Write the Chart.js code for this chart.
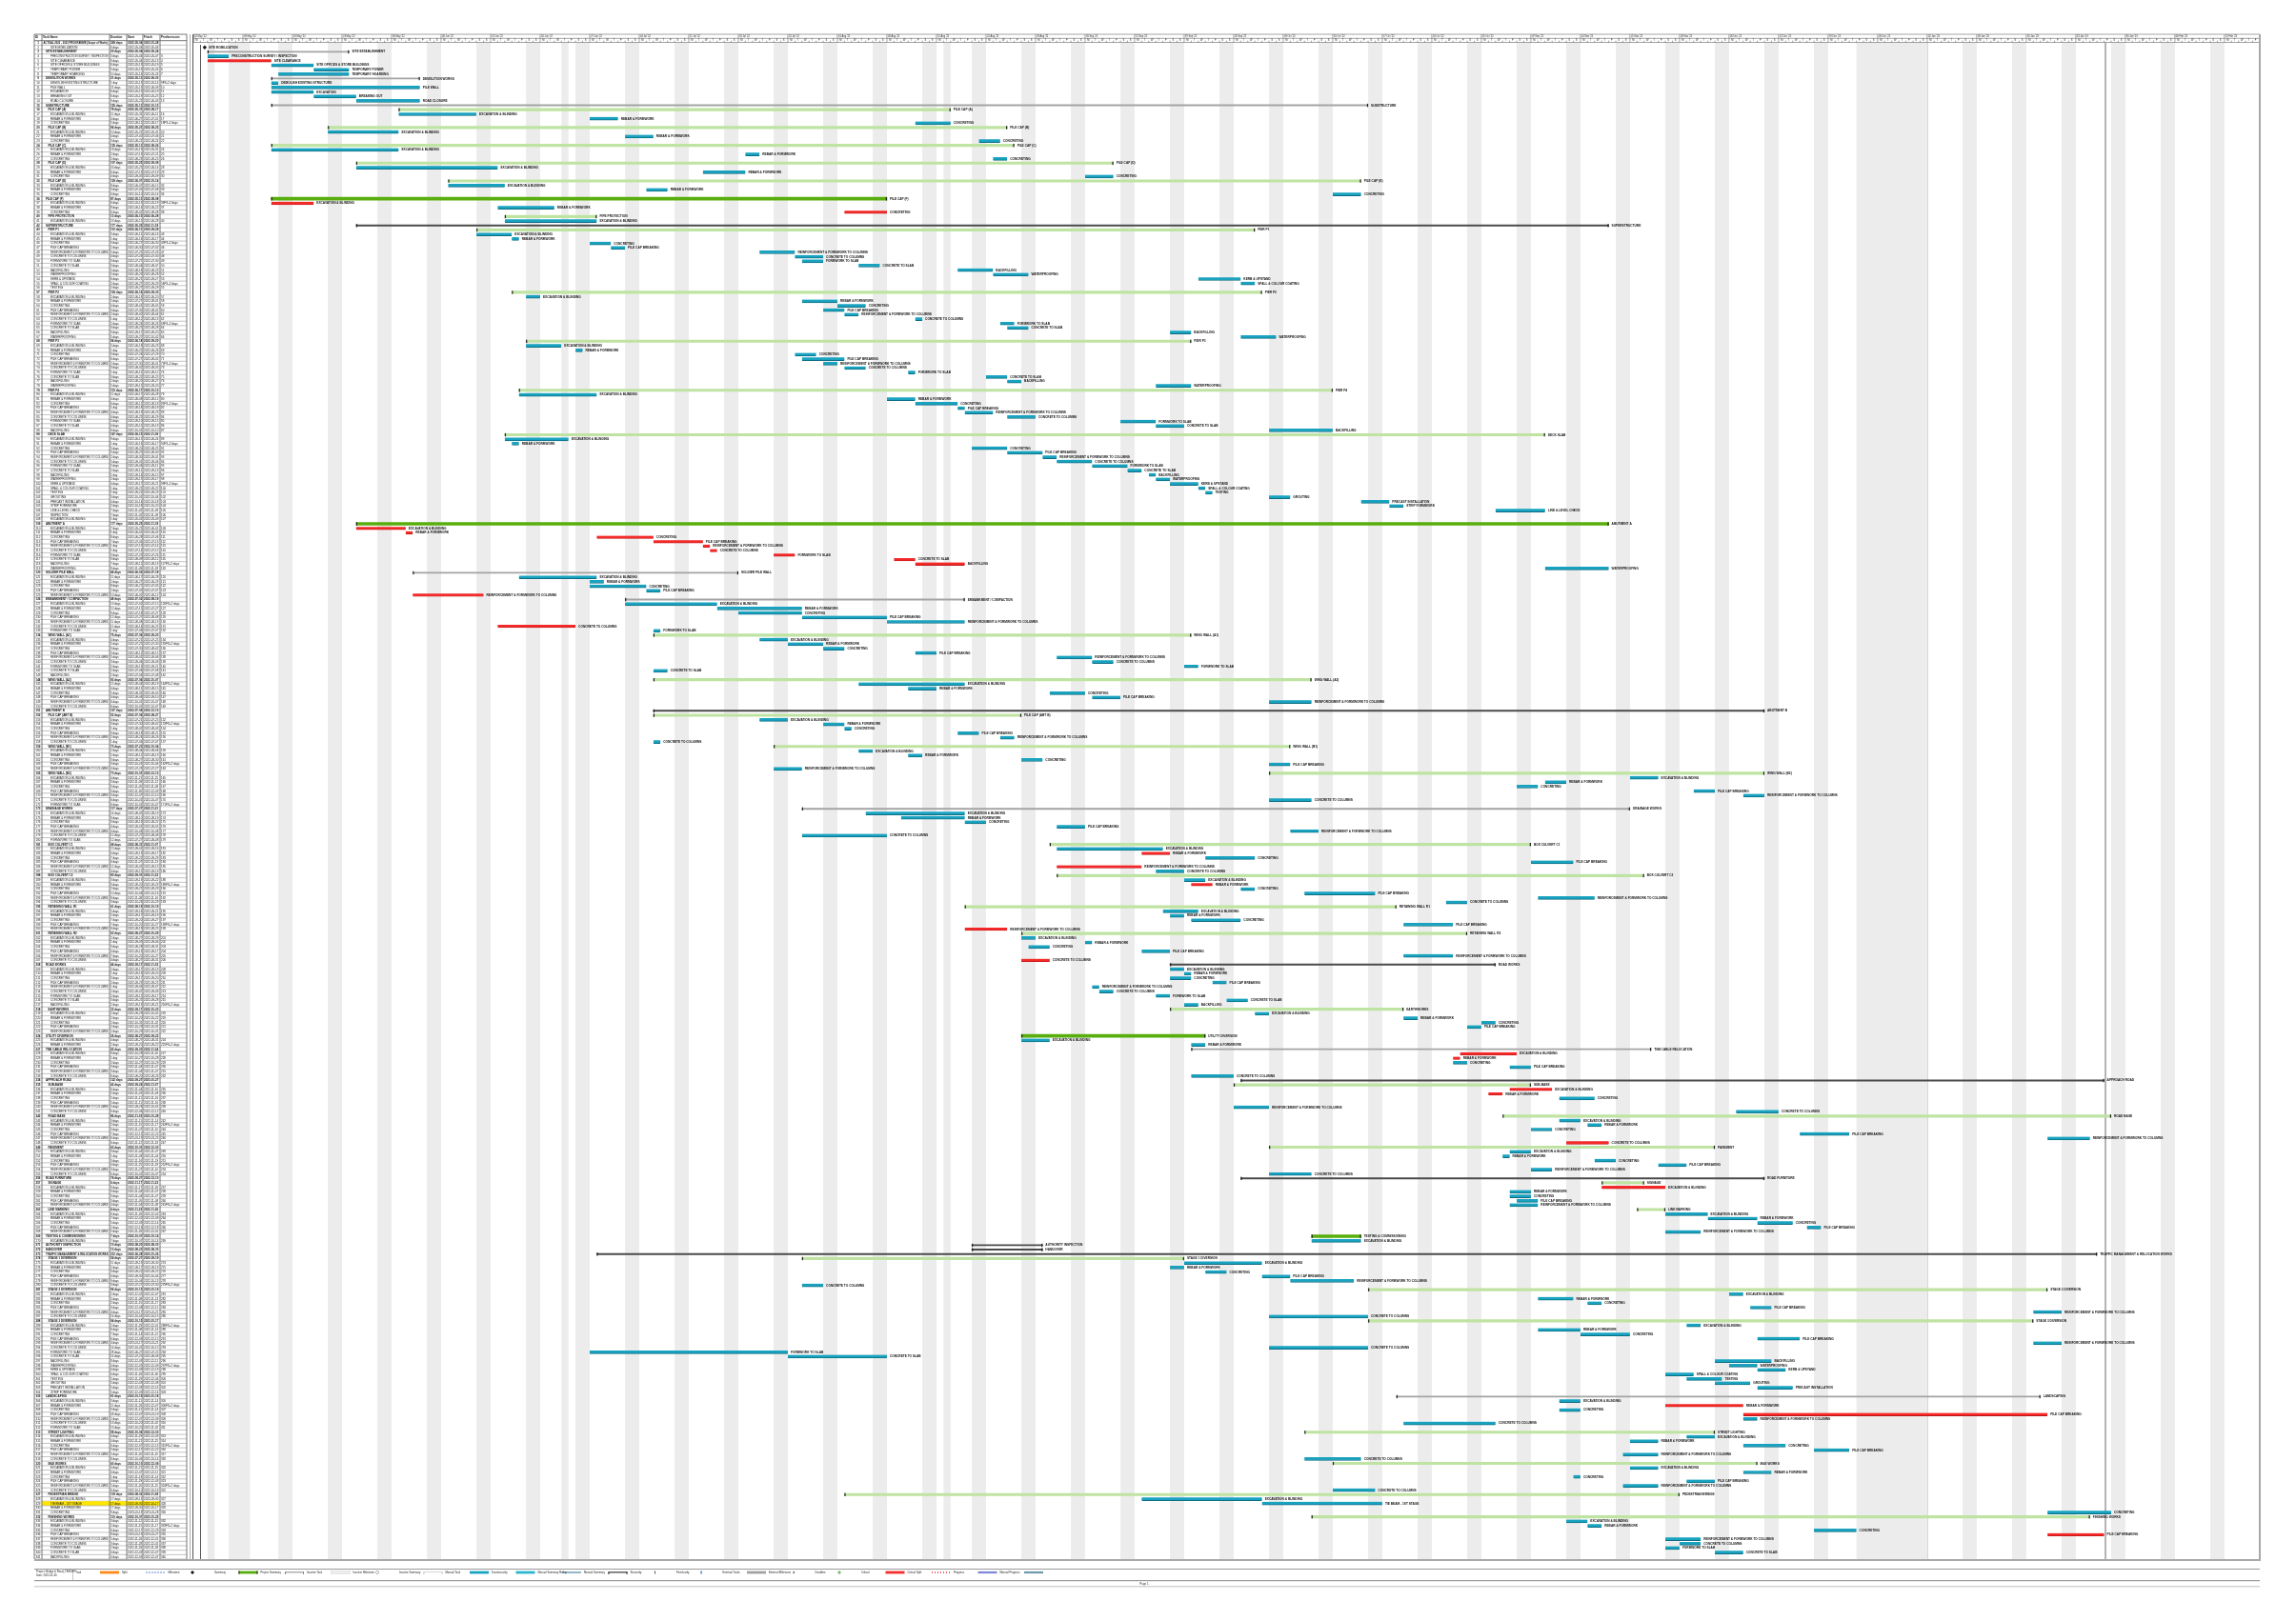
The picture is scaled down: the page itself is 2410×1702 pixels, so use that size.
<!DOCTYPE html>
<html>
<head>
<meta charset="utf-8">
<title>Programme Gantt</title>
<script src="https://cdn.jsdelivr.net/npm/chart.js@4.4.1/dist/chart.umd.min.js"></script>
<style>
  html, body { margin: 0; padding: 0; background: #fff; }
  canvas { display: block; }
</style>
</head>
<body>
<canvas id="gantt" width="2410" height="1702"></canvas>
<script>
// ---- Calendar ----
const ROWS = 341;
const BASE_DATE = Date.UTC(2022, 4, 2);          // day 0 = Mon 2022-05-02
const TOTAL_DAYS = 292;
const holidays = [[2, 3], [7, 8], [52, 53], [106, 107], [235, 245]];
const dayLetters = ["M", "T", "W", "T", "F", "S", "S"];
const monthNames = ["Jan","Feb","Mar","Apr","May","Jun","Jul","Aug","Sep","Oct","Nov","Dec"];

// ---- Bars: [row, startDay, finishDay] ----
const taskBars = [
  [3,2,5],[5,11,17],[6,17,22],[7,12,22],[9,11,12],[10,11,32],[11,11,17],[12,17,23],[13,23,32],
  [16,29,40],[17,56,60],[18,102,107],[20,19,29],[21,61,65],[22,111,114],[24,11,29],[25,78,80],[26,113,115],
  [28,23,43],[29,72,78],[30,126,130],[32,36,44],[33,64,67],[34,161,165],[37,43,51],[40,44,57],
  [43,40,45],[44,45,46],[45,56,59],[46,59,61],[47,80,85],[48,85,89],[49,86,89],[50,94,97],[51,108,113],
  [52,113,118],[53,142,148],[54,148,150],[57,47,49],[58,86,91],[59,91,95],[60,89,92],[61,92,94],[62,102,103],
  [63,114,116],[64,115,118],[65,138,141],[66,148,153],[68,47,52],[69,54,55],[70,85,88],[71,86,92],[72,89,91],
  [73,92,95],[74,101,102],[75,112,115],[76,115,117],[77,136,141],[79,46,57],[80,98,102],[81,102,108],
  [82,108,109],[83,109,113],[84,115,119],[85,131,136],[86,136,140],[87,152,161],[89,44,53],[90,45,46],
  [91,110,115],[92,115,120],[93,120,122],[94,122,127],[95,127,132],[96,132,134],[97,135,136],[98,136,138],
  [99,138,142],[100,142,143],[101,143,144],[102,152,155],[103,165,169],[104,169,171],[105,184,191],
  [118,191,200],[120,46,57],[121,56,58],[122,56,64],[123,64,66],[126,61,74],[127,74,86],[128,77,86],
  [129,86,98],[130,98,109],[132,65,66],[134,80,84],[135,84,89],[136,89,92],[137,102,105],[138,122,127],
  [139,127,130],[140,140,142],[141,65,67],[144,94,109],[145,101,105],[146,121,126],[147,127,131],[148,152,158],
  [152,80,84],[153,89,92],[154,92,93],[155,108,111],[156,114,116],[157,65,66],[159,94,96],[160,101,103],
  [161,117,120],[162,152,155],[163,82,86],[165,203,207],[166,191,194],[167,187,190],[168,212,215],[169,219,222],
  [170,152,158],[173,95,109],[174,100,109],[175,109,112],[176,122,126],[177,155,159],[178,86,98],[181,122,137],
  [183,143,150],[184,189,195],[186,136,140],[188,140,143],[190,148,150],[191,157,167],[192,190,198],[193,177,180],
  [195,137,142],[196,138,140],[197,141,148],[198,171,178],[201,117,119],[202,126,127],[203,118,121],[204,134,138],
  [205,171,178],[208,138,140],[209,140,141],[210,138,141],[211,144,146],[212,127,128],[213,128,130],[214,136,138],
  [215,146,149],[216,140,142],[218,150,152],[219,171,173],[220,182,184],[221,180,182],[224,117,121],[225,141,143],
  [229,178,180],[230,186,189],[232,141,147],[237,193,198],[239,147,152],[240,218,224],[242,193,196],[243,197,199],
  [244,189,192],[245,227,234],[246,262,268],[249,186,189],[250,185,186],[251,198,201],[252,207,211],[253,189,192],
  [254,152,158],[258,186,189],[259,186,189],[260,187,190],[261,186,190],[263,208,214],[264,214,221],[265,221,226],
  [266,228,230],[267,208,213],[269,158,165],[274,140,151],[275,138,140],[276,143,146],[277,151,155],[278,155,164],
  [279,86,89],[281,217,219],[282,190,195],[283,197,199],[284,220,223],[285,260,264],[286,152,166],[288,211,213],
  [289,190,196],[290,196,203],[291,221,227],[292,260,264],[293,152,166],[294,56,84],[295,84,98],[296,215,223],
  [297,217,221],[298,221,225],[299,208,212],[300,211,216],[301,215,220],[302,221,226],[305,193,196],[307,193,196],
  [309,219,221],[310,171,184],[313,211,215],[314,203,207],[315,219,225],[316,229,234],[317,202,207],[318,157,165],
  [320,203,207],[321,219,223],[322,195,196],[323,211,215],[324,202,207],[325,161,167],[327,134,151],[328,151,168],
  [330,262,271],[332,194,197],[333,197,199],[334,229,235],[336,208,213],[337,210,213],[338,208,210],[339,215,219]
];
const criticalBars = [
  [4,2,11],[36,11,17],[38,92,98],[109,23,30],[110,30,31],[111,57,65],[112,65,72],[113,72,73],[114,73,74],
  [115,82,85],[116,99,102],[117,102,109],[124,31,41],[131,43,54],[182,134,138],[185,122,134],[189,141,144],
  [199,109,115],[206,117,121],[227,179,187],[228,178,179],[235,186,192],[236,183,185],[247,194,200],
  [257,199,208],[306,208,219],[308,219,262],[335,262,270]
];
const summaryBars = [
  [15,29,107],[19,19,115],[23,11,116],[27,23,130],[31,36,165],[39,44,57],[42,40,150],[56,45,151],[67,47,141],
  [78,46,161],[88,44,191],[133,65,141],[143,65,158],[151,65,117],[158,82,155],[164,152,222],[180,121,189],
  [187,122,205],[194,109,170],[200,117,180],[217,138,171],[234,147,189],[241,185,271],[248,152,215],
  [256,199,205],[262,204,208],[273,86,140],[280,166,262],[287,166,260],[312,157,215],[319,161,221],
  [326,92,210],[331,158,268]
];
const majorSummaryBars = [[35,11,98],[108,23,200],[223,117,143],[268,158,165]];
const sectionLines = [[41,23,200],[150,65,222],[207,138,184],[233,148,270],[255,148,222],[270,110,120],[271,110,120],[272,57,269]];
const groupLines = [[2,2,22],[8,11,32],[14,11,166],[119,31,77],[125,61,109],[172,86,203],[226,141,206],[304,170,261]];
const milestones = [[1, 1.6]];
const highlightRow = 328;

// ---- Task names ----
const summaryTitles = [
  [0,"ACTUAL 2022 - 2023 PROGRAMME (Scope of Works)"],[2,"SITE ESTABLISHMENT"],[8,"DEMOLITION WORKS"],[14,"SUBSTRUCTURE"],
  [15,"PILE CAP (A)"],[19,"PILE CAP (B)"],[23,"PILE CAP (C)"],[27,"PILE CAP (D)"],[31,"PILE CAP (E)"],[35,"PILE CAP (F)"],
  [39,"PIPE PROTECTION"],[41,"SUPERSTRUCTURE"],[42,"PIER P1"],[56,"PIER P2"],[67,"PIER P3"],[78,"PIER P4"],[88,"DECK SLAB"],
  [108,"ABUTMENT A"],[119,"SOLDIER PILE WALL"],[125,"EMBANKMENT / COMPACTION"],[133,"WING WALL (A1)"],[143,"WING WALL (A2)"],
  [150,"ABUTMENT B"],[151,"PILE CAP (ABT B)"],[158,"WING WALL (B1)"],[164,"WING WALL (B2)"],[172,"DRAINAGE WORKS"],
  [180,"BOX CULVERT C1"],[187,"BOX CULVERT C2"],[194,"RETAINING WALL R1"],[200,"RETAINING WALL R2"],[207,"ROAD WORKS"],
  [217,"EARTHWORKS"],[223,"UTILITY DIVERSION"],[226,"TNB CABLE RELOCATION"],[233,"APPROACH ROAD"],[234,"SUB-BASE"],
  [241,"ROAD BASE"],[248,"PAVEMENT"],[255,"ROAD FURNITURE"],[256,"SIGNAGE"],[262,"LINE MARKING"],
  [268,"TESTING & COMMISSIONING"],[270,"AUTHORITY INSPECTION"],[271,"HANDOVER"],[272,"TRAFFIC MANAGEMENT & RELOCATION WORKS"],
  [273,"STAGE 1 DIVERSION"],[280,"STAGE 2 DIVERSION"],[287,"STAGE 3 DIVERSION"],[304,"LANDSCAPING"],[312,"STREET LIGHTING"],
  [319,"M&E WORKS"],[326,"PEDESTRIAN BRIDGE"],[331,"FINISHING WORKS"]
];
const detailNames = [
  [1,"SITE MOBILIZATION"],[3,"PRECONSTRUCTION SURVEY / INSPECTION"],[4,"SITE CLEARANCE"],[5,"SITE OFFICES & STORE BUILDINGS"],
  [6,"TEMPORARY POWER"],[7,"TEMPORARY HOARDING"],[9,"DEMOLISH EXISTING STRUCTURE"],[10,"PILE WALL"],[11,"EXCAVATION"],
  [12,"BREAKING OUT"],[13,"ROAD CLOSURE"],[328,"TIE BEAM - 1ST STAGE"]
];
const workItems = [
  "EXCAVATION & BLINDING","REBAR & FORMWORK","CONCRETING","PILE CAP BREAKING","REINFORCEMENT & FORMWORK TO COLUMNS",
  "CONCRETE TO COLUMNS","FORMWORK TO SLAB","CONCRETE TO SLAB","BACKFILLING","WATERPROOFING","KERB & UPSTAND",
  "SPALL & COLOUR COATING","TESTING","GROUTING","PRECAST INSTALLATION","STRIP FORMWORK","LINE & LEVEL CHECK","INSPECTION"
];

const tableCols = [36, 44, 115, 133, 150, 168, 196];
const tableHeads = ["ID", "Task Name", "Duration", "Start", "Finish", "Predecessors"];
const legendLabels = ["Task","Split","Milestone","Summary","Project Summary","Inactive Task","Inactive Milestone",
  "Inactive Summary","Manual Task","Duration-only","Manual Summary Rollup","Manual Summary","Start-only","Finish-only",
  "External Tasks","External Milestone","Deadline","Critical","Critical Split","Progress","Manual Progress"];

// ---- derived lookups ----
const rowIds = Array.from({ length: ROWS }, (_, i) => String(i + 1));
const taskNames = [];
const sMap = new Map(summaryTitles), dMap = new Map(detailNames);
let k = 0;
for (let i = 0; i < ROWS; i++) {
  if (sMap.has(i)) { taskNames.push(sMap.get(i)); k = 0; }
  else if (dMap.has(i)) taskNames.push(dMap.get(i));
  else taskNames.push(workItems[k++ % workItems.length]);
}
const level = new Array(ROWS).fill(3);
level[0] = 0;
[...sectionLines, ...groupLines, ...majorSummaryBars].forEach(([r]) => level[r] = 1);
summaryBars.forEach(([r]) => level[r] = 2);
const rowSpan = {};
[taskBars, criticalBars, summaryBars, majorSummaryBars, sectionLines, groupLines].forEach(arr => arr.forEach(([r, s, e]) => rowSpan[r] = [s, e]));
milestones.forEach(([r, d]) => rowSpan[r] = [d, d]);
rowSpan[0] = [1.6, 271];

function fmtDate(day) {
  return new Date(BASE_DATE + Math.round(day) * 86400000).toISOString().slice(0, 10);
}
const toPoints = bars => bars.map(([r, s, e]) => ({ x: [s, e], y: rowIds[r] }));

// ---- Custom drawing ----
const ganttPlugin = {
  id: "ganttExtras",
  beforeDatasetsDraw(chart) {
    const { ctx, chartArea: ca, scales: { x } } = chart;
    ctx.save();
    ctx.fillStyle = "#ececec";
    const band = (s, e) => {
      const x0 = Math.max(x.getPixelForValue(s), ca.left);
      const x1 = Math.min(x.getPixelForValue(e), ca.right);
      if (x1 > x0) ctx.fillRect(x0, 44.5, x1 - x0, ca.bottom - 44.5);
    };
    for (let d = 5; d < TOTAL_DAYS; d += 7) band(d, d + 2);
    holidays.forEach(([s, e]) => band(s, e));
    // project start + page lines
    ctx.fillStyle = "#555";
    ctx.fillRect(Math.round(x.getPixelForValue(1)), 47, 1, ca.bottom - 47);
    ctx.fillStyle = "#d6d6d6";
    ctx.fillRect(Math.round(x.getPixelForValue(245)), 44.5, 1, ca.bottom - 44.5);
    ctx.fillStyle = "#b4b4b4";
    ctx.fillRect(Math.round(x.getPixelForValue(270)), 44.5, 2, ca.bottom - 44.5);
    ctx.restore();
  },
  afterDatasetsDraw(chart) {
    const { ctx, scales: { x, y } } = chart;
    ctx.save();
    // end caps on summary style bars
    chart.data.datasets.forEach((ds, di) => {
      if (!ds.caps) return;
      chart.getDatasetMeta(di).data.forEach(el => {
        const a = Math.min(el.x, el.base), b = Math.max(el.x, el.base);
        ctx.fillStyle = "#222";
        ctx.fillRect(a, el.y - 1.6, 1.2, 3.4);
        ctx.fillRect(b - 1.2, el.y - 1.6, 1.2, 3.4);
      });
    });
    // milestones
    milestones.forEach(([r, d]) => {
      const px = x.getPixelForValue(d), py = y.getPixelForValue(r);
      ctx.fillStyle = "#1a1a1a";
      ctx.beginPath();
      ctx.moveTo(px, py - 2.2); ctx.lineTo(px + 2.2, py); ctx.lineTo(px, py + 2.2); ctx.lineTo(px - 2.2, py);
      ctx.closePath(); ctx.fill();
      ctx.font = "bold 3.2px 'Liberation Sans', Arial";
      ctx.textBaseline = "middle";
      ctx.fillText(taskNames[r], px + 4, py + 0.2);
    });
    // bar labels
    ctx.font = "bold 3.2px 'Liberation Sans', Arial";
    ctx.textBaseline = "middle";
    ctx.fillStyle = "#111";
    chart.data.datasets.forEach((ds, di) => {
      chart.getDatasetMeta(di).data.forEach((el, j) => {
        const r = +ds.data[j].y - 1;
        ctx.fillText(taskNames[r], Math.max(el.x, el.base) + 3, el.y + 0.2);
      });
    });
    ctx.restore();
  },
  afterDraw(chart) {
    const { ctx, chartArea: ca, scales: { x, y } } = chart;
    const h = y.getPixelForValue(1) - y.getPixelForValue(0);
    ctx.save();

    // ---- table ----
    ctx.fillStyle = "#fff";
    ctx.fillRect(tableCols[0], 36, tableCols[6] - tableCols[0], ca.bottom - 36);
    ctx.font = "bold 3px 'Liberation Sans', Arial";
    ctx.textBaseline = "middle";
    ctx.fillStyle = "#111";
    tableHeads.forEach((t, i) => ctx.fillText(t, tableCols[i] + 1, 39.3));
    ctx.strokeStyle = "#9a9a9a";
    ctx.lineWidth = 0.6;
    for (let i = 0; i < ROWS; i++) {
      const cy = y.getPixelForValue(i), top = cy - h / 2;
      if (i === highlightRow) {
        ctx.fillStyle = "#ffe600";
        ctx.fillRect(tableCols[1], top, tableCols[5] - tableCols[1], h);
      }
      ctx.beginPath(); ctx.moveTo(tableCols[0], top + h); ctx.lineTo(tableCols[6], top + h); ctx.stroke();
      const span = rowSpan[i] || rowSpan[i - 1] || [0, 1];
      const dur = Math.max(Math.round(span[1] - span[0]), rowSpan[i] ? 0 : 1);
      const bold = level[i] < 3;
      ctx.fillStyle = "#111";
      ctx.font = (bold ? "bold " : "") + "3px 'Liberation Sans', Arial";
      ctx.textAlign = "center";
      ctx.fillText(rowIds[i], (tableCols[0] + tableCols[1]) / 2, cy + 0.2);
      ctx.textAlign = "left";
      ctx.fillText(taskNames[i], tableCols[1] + 1.5 + level[i] * 2.5, cy + 0.2, tableCols[2] - tableCols[1] - 3 - level[i] * 2.5);
      ctx.fillText(dur + (dur === 1 ? " day" : " days"), tableCols[2] + 1, cy + 0.2);
      ctx.fillText(fmtDate(span[0]), tableCols[3] + 1, cy + 0.2);
      ctx.fillText(fmtDate(span[1]), tableCols[4] + 1, cy + 0.2);
      if (!bold && i > 1) ctx.fillText(String(i) + (i % 9 === 0 ? "FS+2 days" : ""), tableCols[5] + 1, cy + 0.2);
    }
    ctx.strokeStyle = "#555";
    ctx.lineWidth = 0.8;
    tableCols.forEach(cx => { ctx.beginPath(); ctx.moveTo(cx, 36); ctx.lineTo(cx, ca.bottom); ctx.stroke(); });
    [36, 42.7].forEach(ly => { ctx.beginPath(); ctx.moveTo(tableCols[0], ly); ctx.lineTo(tableCols[6], ly); ctx.stroke(); });
    ctx.strokeStyle = "#999";
    ctx.beginPath(); ctx.moveTo(199.5, 36); ctx.lineTo(199.5, ca.bottom); ctx.stroke();

    // ---- timescale header ----
    ctx.fillStyle = "#fff";
    ctx.fillRect(ca.left, 36, ca.right - ca.left, 8.5);
    ctx.strokeStyle = "#666";
    ctx.lineWidth = 0.6;
    ctx.strokeRect(ca.left, 36, ca.right - ca.left, 8.5);
    ctx.beginPath(); ctx.moveTo(ca.left, 40.3); ctx.lineTo(ca.right, 40.3); ctx.stroke();
    ctx.fillStyle = "#222";
    ctx.textAlign = "left";
    for (let d = 0; d < TOTAL_DAYS; d++) {
      const px = x.getPixelForValue(d);
      if (d % 7 === 0) {
        ctx.beginPath(); ctx.moveTo(px, 36); ctx.lineTo(px, 44.5); ctx.stroke();
        const dt = new Date(BASE_DATE + d * 86400000);
        ctx.font = "2.6px 'Liberation Sans', Arial";
        ctx.fillText(String(dt.getUTCDate()).padStart(2, "0") + " " + monthNames[dt.getUTCMonth()] + " '" + String(dt.getUTCFullYear()).slice(2), px + 1, 38.2);
      } else {
        ctx.beginPath(); ctx.moveTo(px, 42.6); ctx.lineTo(px, 44.5); ctx.stroke();
      }
      ctx.font = "2.6px 'Liberation Sans', Arial";
      ctx.fillText(dayLetters[d % 7], px + 2.3, 42.4);
    }

    // ---- frame ----
    ctx.fillStyle = "#555";
    ctx.fillRect(ca.left - 1, 36, 1, ca.bottom - 36);
    ctx.fillStyle = "#a8a8a8";
    ctx.fillRect(ca.right - 1, 36, 2, ca.bottom - 36);
    ctx.fillRect(tableCols[0], ca.bottom, ca.right + 1 - tableCols[0], 2);

    // ---- legend ----
    const LY = 1651;
    ctx.fillStyle = "#9a9a9a";
    ctx.fillRect(tableCols[0], 1647, ca.right - tableCols[0], 1);
    ctx.fillRect(tableCols[0], 1659, ca.right - tableCols[0], 1.2);
    ctx.fillStyle = "#d4d4d4";
    ctx.fillRect(tableCols[0], 1665, ca.right - tableCols[0], 1.5);
    ctx.fillStyle = "#bbb";
    ctx.fillRect(76, 1647, 0.8, 12);
    ctx.fillStyle = "#222";
    ctx.font = "2.8px 'Liberation Sans', Arial";
    ctx.fillText("Project: Bridge & Road_TENDER", 38, 1650.5);
    ctx.fillText("Date: 2022-11-30", 38, 1654.5);
    legendLabels.forEach((lab, i) => {
      const lx = 79.5 + i * 48.5, sx = lx + 25.5;
      ctx.fillStyle = "#222";
      ctx.fillText(lab, lx, LY);
      const bar = (c, hh) => { ctx.fillStyle = c; ctx.fillRect(sx, LY - hh / 2, 20, hh); };
      const bracket = (c, w) => {
        ctx.fillStyle = c; ctx.fillRect(sx, LY - 0.6, 20, w);
        ctx.fillRect(sx, LY - 0.6, 0.9, 2.6); ctx.fillRect(sx + 19.1, LY - 0.6, 0.9, 2.6);
      };
      const diamond = (c, fill) => {
        ctx.beginPath(); ctx.moveTo(sx, LY - 2); ctx.lineTo(sx + 2, LY); ctx.lineTo(sx, LY + 2); ctx.lineTo(sx - 2, LY); ctx.closePath();
        if (fill) { ctx.fillStyle = c; ctx.fill(); } else { ctx.strokeStyle = c; ctx.lineWidth = 0.6; ctx.stroke(); }
      };
      switch (i) {
        case 0: bar("#ff8a1c", 2.8); break;
        case 1: ctx.fillStyle = "#3b6fd1"; for (let q = 0; q < 7; q++) ctx.fillRect(sx + q * 3, LY - 0.8, 1, 1.6); break;
        case 2: diamond("#111", true); break;
        case 3: bar("#55ad0b", 2.8); ctx.fillStyle = "#222"; ctx.fillRect(sx, LY - 1.7, 1, 3.4); ctx.fillRect(sx + 19, LY - 1.7, 1, 3.4); break;
        case 4: bracket("#777", 0.9); break;
        case 5: ctx.strokeStyle = "#ccc"; ctx.lineWidth = 0.6; ctx.strokeRect(sx, LY - 1.4, 20, 2.8); ctx.fillStyle = "#eee"; ctx.fillRect(sx, LY - 1.4, 20, 2.8); break;
        case 6: diamond("#777", false); break;
        case 7: bracket("#bbb", 0.6); break;
        case 8: bar("#18a5c2", 2.8); break;
        case 9: bar("#2bb5d0", 2.8); break;
        case 10: bar("#2b6e8e", 1); break;
        case 11: bracket("#111", 1); break;
        case 12: ctx.fillStyle = "#333"; ctx.fillRect(sx, LY - 1.6, 0.8, 3.2); break;
        case 13: ctx.fillStyle = "#2a6fbf"; ctx.fillRect(sx, LY - 1.6, 1.2, 3.2); break;
        case 14: bar("#a3a3a3", 2.8); break;
        case 15: ctx.fillStyle = "#666"; ctx.fillRect(sx, LY - 1.2, 1.4, 2.4); break;
        case 16: ctx.strokeStyle = "#2e8b1f"; ctx.lineWidth = 0.7; ctx.beginPath(); ctx.moveTo(sx - 2, LY); ctx.lineTo(sx + 2, LY); ctx.moveTo(sx, LY - 2); ctx.lineTo(sx, LY + 2); ctx.stroke(); break;
        case 17: bar("#f52d2d", 2.8); break;
        case 18: ctx.fillStyle = "#f03a3a"; for (let q = 0; q < 7; q++) ctx.fillRect(sx + q * 3, LY - 0.8, 1, 1.6); break;
        case 19: bar("#7d86d8", 2.2); break;
        case 20: bar("#6f98a8", 2.2); break;
      }
    });
    ctx.fillStyle = "#333";
    ctx.font = "3px 'Liberation Sans', Arial";
    ctx.textAlign = "center";
    ctx.fillText("Page 1", 1201, 1663);
    ctx.restore();
  }
};

const ctx = document.getElementById("gantt").getContext("2d");
const common = { grouped: false, borderSkipped: false };
new Chart(ctx, {
  type: "bar",
  data: {
    labels: rowIds,
    datasets: [
      { label: "Group", data: toPoints(groupLines), backgroundColor: "#a3a3a3", barThickness: 1.2, caps: true, ...common },
      { label: "Section", data: toPoints(sectionLines), backgroundColor: "#4a4a4a", barThickness: 1.3, caps: true, ...common },
      { label: "Summary", data: toPoints(summaryBars), backgroundColor: "#bfe3a2", barThickness: 2.5, caps: true, ...common },
      { label: "Major summary", data: toPoints(majorSummaryBars), backgroundColor: "#58ae0c", barThickness: 3, caps: true, ...common },
      { label: "Task", data: toPoints(taskBars), backgroundColor: "#19a3c0", borderColor: "#0c6f86",
        borderWidth: { top: 0, left: 0, right: 0, bottom: 1 }, barThickness: 3.4, ...common },
      { label: "Critical", data: toPoints(criticalBars), backgroundColor: "#f42a2a", borderColor: "#c21414",
        borderWidth: { top: 0, left: 0, right: 0, bottom: 0.8 }, barThickness: 3, ...common }
    ]
  },
  options: {
    indexAxis: "y",
    responsive: false,
    animation: false,
    devicePixelRatio: 1,
    layout: { padding: { left: 203, right: 38, top: 42.7, bottom: 65 } },
    scales: {
      x: { type: "linear", min: 0, max: TOTAL_DAYS, display: false },
      y: { type: "category", display: false, offset: true }
    },
    plugins: { legend: { display: false }, tooltip: { enabled: false } }
  },
  plugins: [ganttPlugin]
});
</script>
</body>
</html>
